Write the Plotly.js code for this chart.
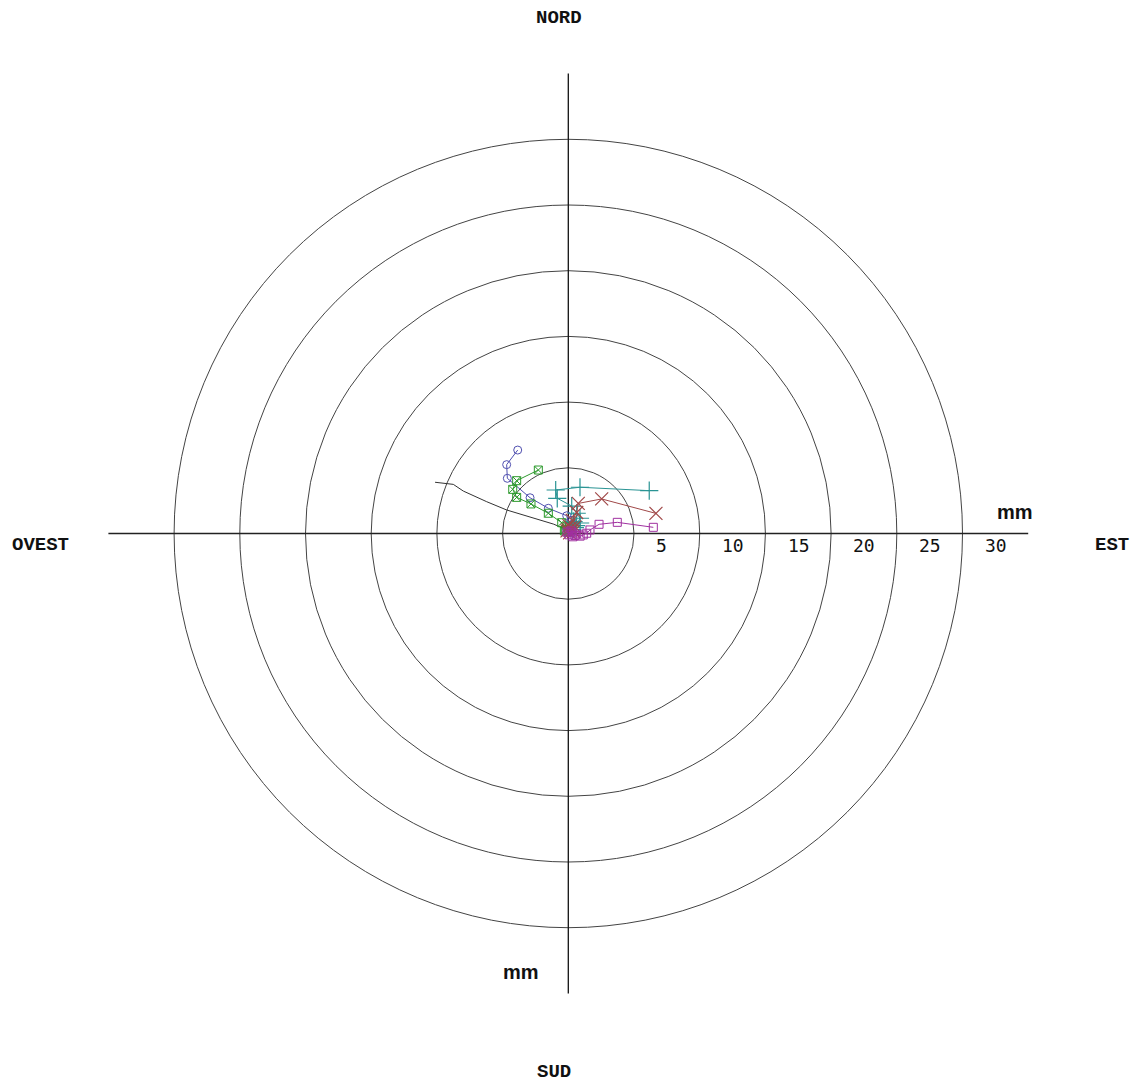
<!DOCTYPE html>
<html>
<head>
<meta charset="utf-8">
<script src="https://cdn.plot.ly/plotly-3.0.1.min.js"></script>
<style>html,body{margin:0;padding:0;background:#fff;}#chart{width:1141px;height:1084px;}</style>
</head>
<body>
<div id="chart"></div>
<script>
// Ring radii (mm) and their labels
const ringRadii = [5, 10, 15, 20, 25, 30];
const ringLabels = ['5', '10', '15', '20', '25', '30'];
const axisExtent = 35;

// Displacement series (mm): East (+x) / North (+y)
const seriesBlueX = [0.0, 0.15, 0.35, 0.2, 0.05, -0.12, -1.52, -2.91, -4.64, -4.69, -3.85];
const seriesBlueY = [0.1, 0.4, 0.7, 1.0, 0.6, 1.35, 1.92, 2.72, 4.20, 5.24, 6.35];

const seriesGreenX = [0.0, -0.2, -0.1, -0.3, -0.50, -1.52, -2.84, -3.93, -4.23, -3.93, -2.28];
const seriesGreenY = [0.1, 0.3, 0.55, 0.2, 0.82, 1.54, 2.25, 2.75, 3.36, 4.02, 4.83];

const seriesTealX = [0.3, 0.6, 0.4, 0.9, 0.5, 0.89, 0.64, 0.26, -0.84, -0.96, 0.89, 6.16];
const seriesTealY = [0.3, 0.6, 0.9, 0.8, 0.45, 1.16, 1.54, 2.09, 2.68, 3.31, 3.52, 3.26];

const seriesBrownX = [0.1, 0.3, -0.1, 0.05, 0.4, 0.2, 0.5, 0.0, 0.3, 0.64, 0.76, 2.54, 6.67];
const seriesBrownY = [0.05, 0.3, 0.2, 0.6, 0.15, 0.45, 0.5, 0.3, 1.0, 1.6, 2.29, 2.63, 1.53];

const seriesMagentaX = [0.05, 0.3, -0.1, 0.5, 0.2, 0.35, 0.64, 0.9, 1.14, 1.40, 1.65, 2.34, 3.73, 6.47];
const seriesMagentaY = [-0.1, 0.05, 0.1, -0.15, 0.2, -0.25, -0.04, -0.2, -0.11, 0.02, 0.27, 0.70, 0.85, 0.47];

const seriesBlackX = [0, -0.38, -1.14, -2.91, -4.69, -6.21, -7.99, -8.75, -10.14];
const seriesBlackY = [0.1, 0.40, 0.72, 1.23, 1.79, 2.42, 3.23, 3.74, 3.90];

const traces = [
  {x: seriesBlackX, y: seriesBlackY, mode: 'lines', line: {color: '#333333', width: 1}},
  {x: seriesBlueX, y: seriesBlueY, mode: 'lines+markers', line: {color: '#5050b0', width: 1},
   marker: {symbol: 'circle-open', size: 8, color: '#5050b0', line: {width: 1}}},
  {x: seriesGreenX, y: seriesGreenY, mode: 'lines+markers', line: {color: '#2e9a2e', width: 1},
   marker: {symbol: 'square-x-open', size: 8, color: '#2e9a2e', line: {width: 1}}},
  {x: seriesTealX, y: seriesTealY, mode: 'lines+markers', line: {color: '#2a9494', width: 1},
   marker: {symbol: 'cross-thin-open', size: 13, color: '#2a9494', line: {width: 1.2, color: '#2a9494'}}},
  {x: seriesBrownX, y: seriesBrownY, mode: 'lines+markers', line: {color: '#a04848', width: 1},
   marker: {symbol: 'x-thin-open', size: 13, color: '#a04848', line: {width: 1.2, color: '#a04848'}}},
  {x: seriesMagentaX, y: seriesMagentaY, mode: 'lines+markers', line: {color: '#a030a0', width: 1},
   marker: {symbol: 'square-open', size: 8, color: '#a030a0', line: {width: 1}}}
];

const shapes = [];
ringRadii.forEach(r => {
  shapes.push({type: 'circle', xref: 'x', yref: 'y', x0: -r, x1: r, y0: -r, y1: r,
               line: {color: '#444444', width: 1}, layer: 'below'});
});
shapes.push({type: 'line', xref: 'x', yref: 'y', x0: -axisExtent, x1: axisExtent, y0: 0, y1: 0,
             line: {color: '#222222', width: 1.3}, layer: 'below'});
shapes.push({type: 'line', xref: 'x', yref: 'y', x0: 0, x1: 0, y0: -axisExtent, y1: axisExtent,
             line: {color: '#111111', width: 1.3}, layer: 'below'});

const W = 1141, H = 1084;
function px(x) { return x / W; }
function py(y) { return 1 - y / H; }
const capFont = {family: '"Courier New", "Liberation Mono", monospace', size: 19, color: '#111'};
const mmFont = {family: 'Arial, "Liberation Sans", sans-serif', size: 20, color: '#111'};
const annotations = [
  {text: '<b>NORD</b>', x: px(559), y: py(18), font: capFont},
  {text: '<b>SUD</b>', x: px(554), y: py(1072), font: capFont},
  {text: '<b>OVEST</b>', x: px(40), y: py(545), font: capFont},
  {text: '<b>EST</b>', x: px(1112), y: py(545), font: capFont},
  {text: '<b>mm</b>', x: px(1015), y: py(512), font: mmFont},
  {text: '<b>mm</b>', x: px(521), y: py(972), font: mmFont}
].map(a => Object.assign({xref: 'paper', yref: 'paper', showarrow: false, xanchor: 'center', yanchor: 'middle'}, a));

ringRadii.forEach((r, i) => {
  annotations.push({text: ringLabels[i], xref: 'x', yref: 'y', x: r + 1.55, y: -0.9,
    xanchor: 'left', yanchor: 'middle', showarrow: false,
    font: {family: '"DejaVu Sans Mono", monospace', size: 18, color: '#111'}});
});

const scale = 13.14; // px per mm
const cx = 568.3, cy = 533.5;
const layout = {
  width: W, height: H,
  margin: {l: 0, r: 0, t: 0, b: 0, pad: 0},
  paper_bgcolor: '#ffffff', plot_bgcolor: '#ffffff',
  showlegend: false,
  xaxis: {range: [-cx / scale, (W - cx) / scale], visible: false, fixedrange: true},
  yaxis: {range: [-(H - cy) / scale, cy / scale], visible: false, fixedrange: true},
  shapes: shapes,
  annotations: annotations
};

Plotly.newPlot('chart', traces, layout, {displayModeBar: false, staticPlot: true});
</script>
</body>
</html>
